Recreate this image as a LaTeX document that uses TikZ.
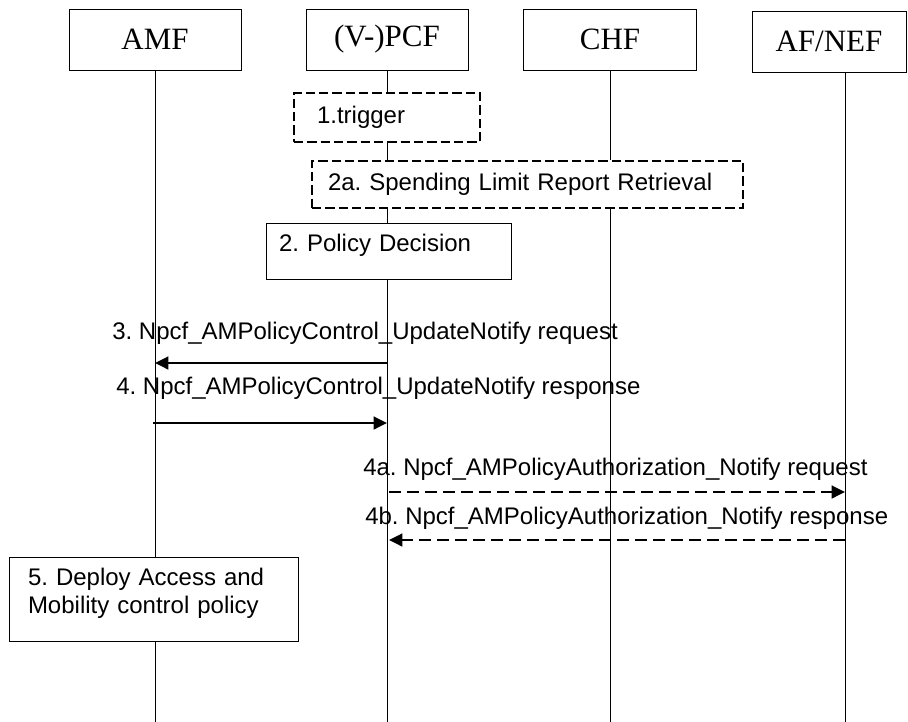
\documentclass[tikz,border=0pt]{standalone}
\usepackage{fontspec}
\setmainfont{Liberation Sans}
\newfontfamily\hdrfont{Liberation Serif}
\usetikzlibrary{arrows.meta}
\frenchspacing

\begin{document}
\begin{tikzpicture}[x=0.75pt, y=-0.75pt,
		entity/.style={draw, line width=0.6pt, minimum height=45.75pt, inner sep=0pt, font=\hdrfont\fontsize{23.25}{28}\selectfont},
		stepbox/.style={draw, line width=0.6pt, align=left, font=\fontsize{18}{21}\selectfont},
		optbox/.style={stepbox, line width=0.8pt, dash pattern=on 7pt off 3pt},
		msg/.style={line width=1.8pt, -{Triangle[length=10pt,width=9.5pt]}},
		optmsg/.style={msg, dash pattern=on 9pt off 4.5pt},
		lbl/.style={anchor=west, inner sep=0pt, font=\fontsize{18}{21}\selectfont},
		life/.style={line width=0.6pt}]
		\useasboundingbox (0,0) rectangle (908,722);
		
		\node[entity, minimum width=129pt] (AMF) at (155,39.5) {AMF};
		\node[entity, minimum width=121.5pt, right of=AMF, node distance=174pt] (PCF) {(V-)PCF};
		\node[entity, minimum width=129.75pt, right of=PCF, node distance=167.25pt] (CHF) {CHF};
		\node[entity, minimum width=115.5pt, right of=CHF, node distance=164.25pt, yshift=-1.5pt] (AF) {AF/NEF};
		
		\coordinate (AMFe) at (155,722);
		\coordinate (PCFe) at (387,722);
		\coordinate (CHFe) at (610,722);
		\coordinate (AFe) at (845,722);
		
		\node[optbox, below of=PCF, node distance=58.5pt, text width=105pt, inner xsep=17.25pt, minimum height=36.75pt](T1){1.trigger};
		\node[optbox, text width=299.25pt, inner xsep=12pt, minimum height=35.25pt](S2a) at (527.5,184.5){2a. Spending Limit Report Retrieval};
		\node[stepbox, text width=164.25pt, inner xsep=9.75pt, minimum height=42pt, text depth=12pt](D2) at (388.5,251){2. Policy Decision};
		\node[stepbox, text width=188.25pt, inner xsep=14.25pt, minimum height=63pt, text depth=33pt](D5) at (153.5,599){5. Deploy Access and\\Mobility control policy};
		
		% lifelines
		\draw[life] (AMF) -- (AMF |- D5.north);
		\draw[life] (AMF |- D5.south) -- (AMFe);
		\draw[life] (PCF) -- (T1);
		\draw[life] (T1) -- (PCF |- S2a.north);
		\draw[life] (PCF |- S2a.south) -- (PCF |- D2.north);
		\draw[life] (PCF |- D2.south) -- (PCFe);
		\draw[life] (CHF) -- (CHF |- S2a.north);
		\draw[life] (CHF |- S2a.south) -- (CHFe);
		\draw[life] (AFe |- AF.south) -- (AFe);
		
		% messages
		\coordinate (A3) at (155,363);
		\coordinate (P3) at (387,363);
		\coordinate (A4) at (153,423);
		\coordinate (P4) at (387,423);
		\coordinate (P4a) at (389,492);
		\coordinate (F4a) at (845,492);
		\coordinate (P4b) at (389,540);
		\coordinate (F4b) at (845,540);
		
		\draw[msg] (P3) -- (A3);
		\draw[msg] (A4) -- (P4);
		\draw[optmsg] (P4a) -- (F4a);
		\draw[optmsg] (F4b) -- (P4b);
		
		\node[lbl] (L3) at (112,333) {3. Npcf\_AMPolicyControl\_UpdateNotify request};
		\node[lbl] (L4) at (116,388) {4. Npcf\_AMPolicyControl\_UpdateNotify response};
		\node[lbl] (L4a) at (363,469) {4a. Npcf\_AMPolicyAuthorization\_Notify request};
		\node[lbl] (L4b) at (365,518) {4b. Npcf\_AMPolicyAuthorization\_Notify response};
\end{tikzpicture}
\end{document}
